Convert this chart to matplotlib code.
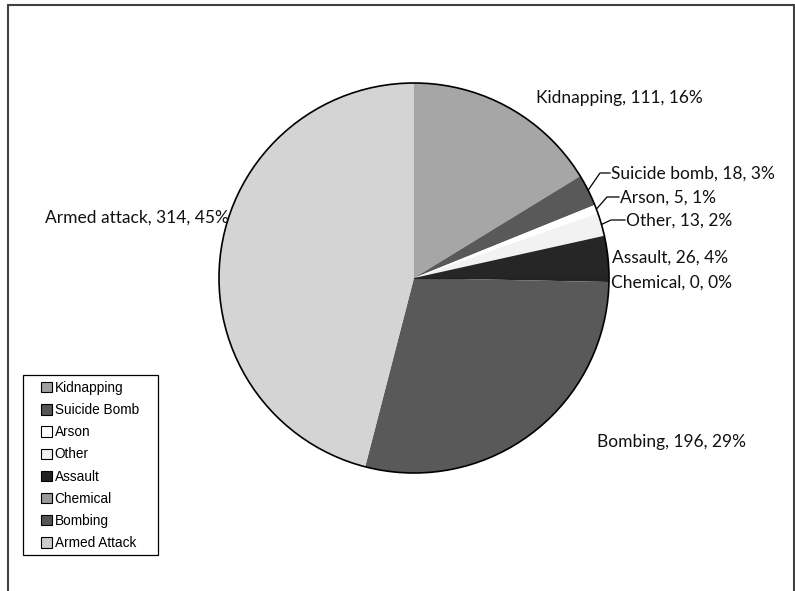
import numpy as np
import matplotlib
matplotlib.use("Agg")
import matplotlib.pyplot as plt
from matplotlib.patches import Patch, Circle, Rectangle

categories = ["Kidnapping", "Suicide Bomb", "Arson", "Other", "Assault",
              "Chemical", "Bombing", "Armed Attack"]
label_names = ["Kidnapping", "Suicide bomb", "Arson", "Other", "Assault",
               "Chemical", "Bombing", "Armed attack"]
values = [111, 18, 5, 13, 26, 0, 196, 314]
percents = [16, 3, 1, 2, 4, 0, 29, 45]
colors = ["#a6a6a6", "#595959", "#ffffff", "#f2f2f2", "#262626",
          "#8c8c8c", "#595959", "#d4d4d4"]
legend_colors = ["#a0a0a0", "#555555", "#ffffff", "#f0f0f0", "#222222",
                 "#999999", "#555555", "#cccccc"]

W, H = 795, 591
fig = plt.figure(figsize=(W / 100, H / 100), dpi=100)
ax = fig.add_axes([0, 0, 1, 1])

cx, cy, r = 414, H - 278, 195
wedges, _ = ax.pie(values, colors=colors, startangle=90, counterclock=False,
                   center=(cx, cy), radius=r, frame=True,
                   wedgeprops=dict(edgecolor="none", linewidth=0))
ax.set_xlim(0, W)
ax.set_ylim(0, H)
ax.set_aspect("equal")
ax.axis("off")
ax.add_patch(Circle((cx, cy), r, fill=False, edgecolor="black", lw=1.2))
# boundary line of the zero wedge
ax.plot([cx, cx + r], [cy, cy], color="#202020", lw=0.8)

# frame round the chart area (bottom edge runs off the picture)
ax.add_patch(Rectangle((8, -10), 786, H - 5 + 10, fill=False,
                       edgecolor="#404040", lw=1.5, clip_on=False))

font = "Lato"
fs = 12.5
# label positions (image pixel coords: x, y from top)
label_pos = [(536, 98), (611, 174), (620, 198), (626, 221), (612, 258),
             (611, 283), (597, 442), (45, 218)]
leaders = {1: (600, 173), 2: (607, 197), 3: (611, 220)}

for i, w in enumerate(wedges):
    tx, ty = label_pos[i]
    ty = H - ty
    text = "{}, {}, {}%".format(label_names[i], values[i], percents[i])
    ax.text(tx, ty, text, fontsize=fs, family=font, va="center", ha="left",
            color="#111111")
    if i in leaders:
        mid = np.deg2rad((w.theta1 + w.theta2) / 2)
        sx, sy = cx + r * np.cos(mid), cy + r * np.sin(mid)
        ex, ey = leaders[i]
        ey = H - ey
        ax.plot([sx, ex, tx - 1], [sy, ey, ey], color="black", lw=0.9)

# legend box drawn separately (wide side margins)
ax.add_patch(Rectangle((23, H - 555), 135, 180, fill=False,
                       edgecolor="black", lw=0.9))
handles = [Patch(facecolor=c, edgecolor="black", linewidth=0.8) for c in legend_colors]
leg = ax.legend(handles, categories, loc="upper left",
                bbox_to_anchor=(41 / W, 1 - 381 / H), bbox_transform=fig.transFigure,
                prop=dict(family="Liberation Sans", size=9.8),
                frameon=False, handlelength=0.78, handleheight=0.78,
                handletextpad=0.22, labelspacing=0.6, borderpad=0,
                borderaxespad=0)
for t in leg.get_texts():
    t.set_color("black")

fig.savefig("out.png", dpi=100, facecolor="white")
